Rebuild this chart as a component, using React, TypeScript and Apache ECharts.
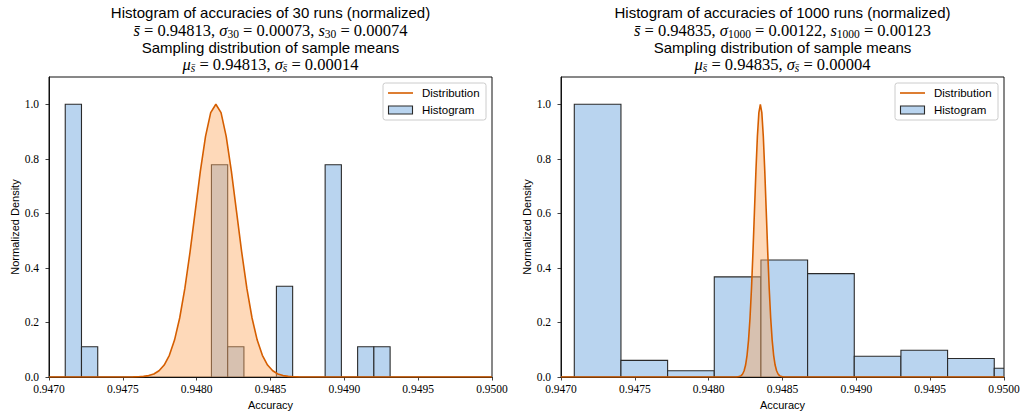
import React, { useEffect, useRef } from 'react';
import * as echarts from 'echarts';

// ---- Data: 30 runs ----
const binEdges30 = [0.94711, 0.94722, 0.94733, 0.94744, 0.94755, 0.94766, 0.94777, 0.94788, 0.94799, 0.9481, 0.94821, 0.94832, 0.94843, 0.94854, 0.94865, 0.94876, 0.94887, 0.94898, 0.94909, 0.9492, 0.94931];
const binHeights30 = [1, 0.111, 0, 0, 0, 0, 0, 0, 0, 0.778, 0.111, 0, 0, 0.333, 0, 0, 0.778, 0, 0.111, 0.111];
const distX30 = [0.947, 0.94757, 0.947605, 0.94764, 0.947675, 0.94771, 0.947745, 0.94778, 0.947815, 0.94785, 0.947885, 0.94792, 0.947955, 0.94799, 0.948025, 0.94806, 0.948095, 0.94813, 0.948165, 0.9482, 0.948235, 0.94827, 0.948305, 0.94834, 0.948375, 0.94841, 0.948445, 0.94848, 0.948515, 0.94855, 0.948585, 0.94862, 0.948655, 0.94869, 0.95];
const distY30 = [0, 0.0003, 0.0009, 0.0022, 0.0051, 0.0111, 0.0228, 0.0439, 0.0796, 0.1353, 0.2163, 0.3247, 0.4578, 0.6065, 0.7548, 0.8825, 0.9692, 1, 0.9692, 0.8825, 0.7548, 0.6065, 0.4578, 0.3247, 0.2163, 0.1353, 0.0796, 0.0439, 0.0228, 0.0111, 0.0051, 0.0022, 0.0009, 0.0003, 0];

// ---- Data: 1000 runs ----
const binEdges1000 = [0.94709, 0.947406, 0.947722, 0.948038, 0.948354, 0.94867, 0.948986, 0.949302, 0.949618, 0.949934, 0.95025];
const binHeights1000 = [1, 0.061, 0.023, 0.367, 0.429, 0.379, 0.076, 0.098, 0.068, 0.032];
const distX1000 = [0.947, 0.94819, 0.9482, 0.94821, 0.94822, 0.94823, 0.94824, 0.94825, 0.94826, 0.94827, 0.94828, 0.94829, 0.9483, 0.94831, 0.94832, 0.94833, 0.94834, 0.94835, 0.94836, 0.94837, 0.94838, 0.94839, 0.9484, 0.94841, 0.94842, 0.94843, 0.94844, 0.94845, 0.94846, 0.94847, 0.94848, 0.94849, 0.9485, 0.94851, 0.95];
const distY1000 = [0, 0.0003, 0.0009, 0.0022, 0.0051, 0.0111, 0.0228, 0.0439, 0.0796, 0.1353, 0.2163, 0.3247, 0.4578, 0.6065, 0.7548, 0.8825, 0.9692, 1, 0.9692, 0.8825, 0.7548, 0.6065, 0.4578, 0.3247, 0.2163, 0.1353, 0.0796, 0.0439, 0.0228, 0.0111, 0.0051, 0.0022, 0.0009, 0.0003, 0];

// ---- Text ----
const titles30 = ['Histogram of accuracies of 30 runs (normalized)', 'Sampling distribution of sample means'];
const stats30 = { mean: '0.94813', sigma: '0.00073', s: '0.00074', n: '30', mu: '0.94813', se: '0.00014' };
const titles1000 = ['Histogram of accuracies of 1000 runs (normalized)', 'Sampling distribution of sample means'];
const stats1000 = { mean: '0.94835', sigma: '0.00122', s: '0.00123', n: '1000', mu: '0.94835', se: '0.00004' };
const legendLabels = ['Distribution', 'Histogram'];

const BAR_FILL = '#b9d4ef';
const BAR_EDGE = '#2a2a2a';
const LINE_COLOR = '#d55e00';
const AREA_FILL = 'rgba(253,170,100,0.45)';
const SANS = '"Liberation Sans", Arial, sans-serif';
const SERIF = '"Liberation Serif", "Times New Roman", serif';

const GRIDS = [
  { left: 49, top: 77, width: 443, height: 300 },
  { left: 561, top: 77, width: 443, height: 300 },
];

function histData(edges: number[], heights: number[]) {
  return heights.map((h, i) => [edges[i], edges[i + 1], h]);
}

function renderBar(params: any, api: any) {
  const x0 = api.value(0);
  const x1 = api.value(1);
  const h = api.value(2);
  if (!h) return null;
  const p0 = api.coord([x0, h]);
  const p1 = api.coord([x1, 0]);
  const cs = params.coordSys;
  const rect = echarts.graphic.clipRectByRect(
    { x: p0[0], y: p0[1], width: p1[0] - p0[0], height: p1[1] - p0[1] },
    { x: cs.x, y: cs.y, width: cs.width, height: cs.height }
  );
  if (!rect) return null;
  return {
    type: 'rect',
    shape: rect,
    style: { fill: BAR_FILL, stroke: BAR_EDGE, lineWidth: 1.1 },
  };
}

const MATH = 16.5;
const SUB = 11.5;
const rich = {
  it: { fontFamily: SERIF, fontStyle: 'italic', fontSize: MATH, fill: '#000' },
  rm: { fontFamily: SERIF, fontSize: MATH, fill: '#000' },
  sub: { fontFamily: SERIF, fontSize: SUB, fill: '#000', padding: [8, 0, 0, 0] },
  subit: { fontFamily: SERIF, fontStyle: 'italic', fontSize: SUB, fill: '#000', padding: [8, 0, 0, 0] },
};

function titleGraphics(cx: number, titles: string[], st: any) {
  const line2 = `{it|s̄}{rm| = ${st.mean}, }{it|σ}{sub|${st.n}}{rm| = ${st.sigma}, }{it|s}{sub|${st.n}}{rm| = ${st.s}}`;
  const line4 = `{it|μ}{subit|s̄}{rm| = ${st.mu}, }{it|σ}{subit|s̄}{rm| = ${st.se}}`;
  return [
    { type: 'text', x: cx, y: 12, style: { text: titles[0], font: `15px ${SANS}`, fill: '#000', align: 'center', verticalAlign: 'middle' } },
    { type: 'text', x: cx, y: 30, style: { text: line2, rich, fontSize: MATH, fontFamily: SERIF, fill: '#000', align: 'center', verticalAlign: 'middle' } },
    { type: 'text', x: cx, y: 47, style: { text: titles[1], font: `15px ${SANS}`, fill: '#000', align: 'center', verticalAlign: 'middle' } },
    { type: 'text', x: cx, y: 64, style: { text: line4, rich, fontSize: MATH, fontFamily: SERIF, fill: '#000', align: 'center', verticalAlign: 'middle' } },
  ];
}

function legendGraphics(right: number) {
  const bx = right - 109;
  return [
    { type: 'rect', shape: { x: bx, y: 83, width: 103, height: 37, r: 2.5 }, style: { fill: 'rgba(255,255,255,0.8)', stroke: '#cccccc', lineWidth: 1 }, z: 100 },
    { type: 'line', shape: { x1: bx + 5, y1: 93, x2: bx + 30, y2: 93 }, style: { stroke: LINE_COLOR, lineWidth: 1.6 }, z: 101 },
    { type: 'text', x: bx + 39, y: 93, style: { text: legendLabels[0], font: `11.5px ${SANS}`, fill: '#000', verticalAlign: 'middle' }, z: 101 },
    { type: 'rect', shape: { x: bx + 5.5, y: 106, width: 24, height: 8 }, style: { fill: BAR_FILL, stroke: BAR_EDGE, lineWidth: 1.1 }, z: 101 },
    { type: 'text', x: bx + 39, y: 110, style: { text: legendLabels[1], font: `11.5px ${SANS}`, fill: '#000', verticalAlign: 'middle' }, z: 101 },
  ];
}

function xAxis(gi: number) {
  return {
    type: 'value',
    gridIndex: gi,
    min: 0.947,
    max: 0.95,
    interval: 0.0005,
    name: 'Accuracy',
    nameLocation: 'middle',
    nameGap: 22,
    nameTextStyle: { fontFamily: SANS, fontSize: 11, color: '#000' },
    axisLine: { show: true, onZero: false, lineStyle: { color: '#111', width: 1 } },
    axisTick: { show: true, inside: false, length: 3.5, lineStyle: { color: '#111', width: 0.8 } },
    axisLabel: { margin: 6, fontFamily: SERIF, fontSize: 11.5, color: '#000', formatter: (v: number) => v.toFixed(4) },
    splitLine: { show: false },
  };
}

function yAxis(gi: number) {
  return {
    type: 'value',
    gridIndex: gi,
    min: 0,
    max: 1.1,
    interval: 0.2,
    name: 'Normalized Density',
    nameLocation: 'middle',
    nameGap: 28,
    nameTextStyle: { fontFamily: SANS, fontSize: 11, color: '#000' },
    axisLine: { show: true, lineStyle: { color: '#111', width: 1 } },
    axisTick: { show: true, inside: false, length: 3.5, lineStyle: { color: '#111', width: 0.8 } },
    axisLabel: { margin: 10, fontFamily: SERIF, fontSize: 11.5, color: '#000', showMaxLabel: false, formatter: (v: number) => (v > 1.05 ? '' : v.toFixed(1)) },
    splitLine: { show: false },
  };
}

function seriesFor(gi: number, edges: number[], heights: number[], dx: number[], dy: number[]) {
  return [
    {
      type: 'custom',
      xAxisIndex: gi,
      yAxisIndex: gi,
      renderItem: renderBar,
      encode: { x: [0, 1], y: 2 },
      data: histData(edges, heights),
      z: 2,
      clip: true,
    },
    {
      type: 'line',
      xAxisIndex: gi,
      yAxisIndex: gi,
      data: dx.map((x, i) => [x, dy[i]]),
      showSymbol: false,
      smooth: false,
      lineStyle: { color: LINE_COLOR, width: 1.6 },
      itemStyle: { color: LINE_COLOR },
      areaStyle: { color: AREA_FILL, opacity: 1, origin: 'start' },
      z: 3,
      clip: true,
    },
  ];
}

export default function App() {
  const ref = useRef<HTMLDivElement>(null);
  useEffect(() => {
    if (!ref.current) return;
    const chart = echarts.init(ref.current, null, { renderer: 'svg' });
    chart.setOption({
      animation: false,
      backgroundColor: '#fff',
      grid: GRIDS.map((g) => ({ ...g, show: true, borderColor: '#111', borderWidth: 1, backgroundColor: 'transparent', containLabel: false })),
      xAxis: [xAxis(0), xAxis(1)],
      yAxis: [yAxis(0), yAxis(1)],
      series: [
        ...seriesFor(0, binEdges30, binHeights30, distX30, distY30),
        ...seriesFor(1, binEdges1000, binHeights1000, distX1000, distY1000),
      ],
      graphic: [
        ...titleGraphics(270.5, titles30, stats30),
        ...titleGraphics(782.5, titles1000, stats1000),
        ...legendGraphics(492),
        ...legendGraphics(1004),
      ],
    });
    return () => chart.dispose();
  }, []);
  return <div ref={ref} style={{ position: 'fixed', left: 0, top: 0, width: 1023, height: 416 }} />;
}
